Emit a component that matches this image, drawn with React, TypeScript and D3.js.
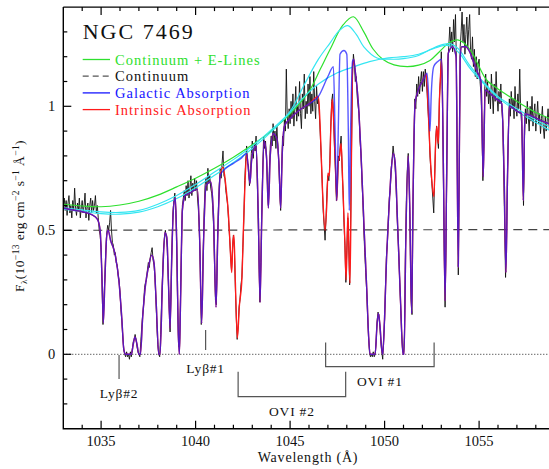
import * as d3 from 'd3';

const W = 549;
const H = 469;

const WAVE_DOMAIN = [1033, 1059];
const FLUX_DOMAIN = [-0.3, 1.4];

const xMajorTicks = [1035, 1040, 1045, 1050, 1055];
const xTickLabels = ['1035', '1040', '1045', '1050', '1055'];
const yMajorTicks = [0, 0.5, 1];
const yTickLabels = ['0', '0.5', '1'];

const GREEN = '#2ee02e';
const CYAN = '#35e6f2';
const BLUE = '#1616ff';
const RED = '#ff1a1a';
const SERIF = '"Liberation Serif", "DejaVu Serif", serif';

// observed spectrum, 0.05 A sampling starting at 1033.00 (one row per angstrom)
const obsStart = 1033.0;
const obsStep = 0.05;
const obsFlux = [
  0.60, 0.63, 0.58, 0.62, 0.56, 0.61, 0.64, 0.57, 0.60, 0.55, 0.62, 0.58, 0.67, 0.59, 0.56, 0.61, 0.58, 0.63, 0.55, 0.59,
  0.62, 0.57, 0.60, 0.65, 0.55, 0.59, 0.61, 0.54, 0.60, 0.63, 0.57, 0.62, 0.58, 0.60, 0.64, 0.57, 0.60, 0.55, 0.50, 0.48,
  0.43, 0.28, 0.12, 0.22, 0.31, 0.42, 0.49, 0.52, 0.50, 0.53, 0.58, 0.50, 0.45, 0.44, 0.40, 0.41, 0.37, 0.36, 0.32, 0.30,
  0.25, 0.18, 0.13, 0.07, 0.02, 0.00, -0.01, 0.01, -0.01, 0.00, -0.02, 0.01, -0.01, 0.02, 0.05, 0.06, 0.08, 0.06, 0.03, 0.01,
  0.00, -0.01, 0.05, 0.11, 0.16, 0.20, 0.27, 0.29, 0.30, 0.34, 0.37, 0.35, 0.39, 0.41, 0.43, 0.38, 0.36, 0.31, 0.22, 0.12,
  0.04, 0.00, -0.01, 0.08, 0.21, 0.31, 0.42, 0.47, 0.50, 0.47, 0.43, 0.31, 0.20, 0.09, 0.26, 0.43, 0.57, 0.62, 0.65, 0.58,
  0.45, 0.19, 0.03, 0.03, 0.22, 0.42, 0.60, 0.63, 0.66, 0.62, 0.68, 0.64, 0.70, 0.63, 0.67, 0.72, 0.64, 0.69, 0.66, 0.71,
  0.66, 0.70, 0.63, 0.58, 0.49, 0.33, 0.12, 0.22, 0.41, 0.57, 0.68, 0.71, 0.66, 0.75, 0.69, 0.72, 0.67, 0.65, 0.60, 0.52,
  0.37, 0.22, 0.20, 0.42, 0.57, 0.68, 0.75, 0.71, 0.77, 0.82, 0.72, 0.71, 0.66, 0.63, 0.60, 0.53, 0.47, 0.40, 0.34, 0.42,
  0.48, 0.43, 0.28, 0.15, 0.06, 0.11, 0.19, 0.22, 0.28, 0.31, 0.43, 0.54, 0.70, 0.78, 0.84, 0.77, 0.76, 0.68, 0.73, 0.81,
  0.86, 0.79, 0.85, 0.82, 0.88, 0.73, 0.58, 0.40, 0.21, 0.37, 0.56, 0.74, 0.88, 0.83, 0.86, 0.79, 0.69, 0.60, 0.74, 0.84,
  0.88, 0.84, 0.93, 0.86, 0.90, 0.83, 0.92, 0.84, 0.78, 0.66, 0.58, 0.73, 0.88, 0.84, 0.95, 0.90, 1.15, 0.96, 0.91, 0.99,
  0.93, 1.02, 0.95, 1.05, 0.92, 0.99, 1.08, 0.94, 1.00, 0.96, 1.10, 0.97, 0.91, 1.05, 0.99, 1.13, 0.95, 1.02, 0.97, 1.09,
  1.00, 1.12, 0.97, 1.05, 0.98, 1.14, 1.02, 0.95, 1.08, 1.01, 1.03, 0.96, 0.88, 0.79, 0.69, 0.58, 0.52, 0.46, 0.55, 0.66,
  0.72, 0.70, 0.77, 0.92, 1.02, 1.05, 0.95, 0.83, 0.74, 0.62, 0.66, 0.80, 0.78, 0.84, 0.88, 0.75, 0.66, 0.53, 0.44, 0.29,
  0.42, 0.55, 0.44, 0.28, 0.52, 0.82, 1.12, 1.21, 1.17, 1.10, 1.12, 1.04, 1.00, 0.97, 0.86, 0.81, 0.70, 0.62, 0.50, 0.41,
  0.33, 0.26, 0.16, 0.07, 0.01, -0.01, 0.00, -0.01, 0.01, -0.01, 0.00, 0.05, 0.13, 0.17, 0.16, 0.11, 0.05, 0.01, -0.02, 0.06,
  0.14, 0.28, 0.40, 0.45, 0.55, 0.63, 0.66, 0.75, 0.79, 0.84, 0.80, 0.76, 0.69, 0.58, 0.49, 0.41, 0.29, 0.19, 0.09, 0.02,
  0.00, 0.08, 0.40, 0.62, 0.74, 0.81, 0.70, 0.48, 0.22, 0.16, 0.58, 0.86, 1.03, 0.99, 1.09, 1.04, 1.12, 1.05, 1.10, 1.14,
  1.06, 1.14, 1.08, 1.15, 1.11, 1.05, 0.98, 0.92, 0.80, 0.74, 0.69, 0.63, 0.57, 0.72, 0.86, 0.92, 0.87, 0.83, 1.03, 1.10,
  1.22, 1.08, 0.78, 0.43, 0.19, 0.44, 0.82, 1.18, 1.25, 1.32, 1.24, 1.30, 1.22, 1.35, 1.26, 1.37, 1.18, 0.74, 0.32, 0.76,
  1.24, 1.30, 1.38, 1.26, 1.33, 1.21, 1.29, 1.36, 1.24, 1.31, 1.37, 1.22, 1.19, 1.28, 1.16, 1.23, 1.12, 1.20, 1.11, 1.17,
  1.19, 1.10, 1.05, 0.93, 0.70, 0.86, 1.08, 1.13, 1.04, 1.10, 1.01, 1.07, 0.99, 1.13, 1.05, 0.97, 1.09, 1.02, 1.14, 1.04,
  0.98, 1.06, 1.01, 1.09, 0.99, 0.94, 0.74, 0.53, 0.31, 0.46, 0.72, 0.90, 1.03, 0.96, 1.06, 0.99, 1.03, 0.95, 1.08, 1.00,
  0.96, 1.05, 0.99, 1.15, 0.98, 0.93, 0.79, 0.60, 0.86, 0.99, 0.93, 1.02, 0.96, 0.90, 1.00, 0.94, 1.04, 0.92, 0.97, 1.01,
  0.90, 0.96, 1.02, 0.93, 0.97, 0.89, 0.95, 1.00, 0.91, 0.87, 0.96, 0.90, 0.94, 0.99, 0.92, 0.88,
];

// continuum + emission lines (green)
const greenModel = [
  [1033, 0.605], [1034, 0.598], [1035, 0.595], [1036, 0.602], [1037, 0.617],
  [1038, 0.642], [1039, 0.675], [1040, 0.71], [1041, 0.75], [1042, 0.795],
  [1043, 0.845], [1044, 0.9], [1045, 0.97], [1046, 1.06], [1046.6, 1.15],
  [1047.1, 1.227], [1047.8, 1.328], [1048.35, 1.361], [1048.9, 1.3],
  [1049.4, 1.23], [1049.9, 1.19], [1050.5, 1.167], [1051.2, 1.16],
  [1051.8, 1.166], [1052.4, 1.185], [1052.9, 1.22], [1053.4, 1.255],
  [1053.85, 1.268], [1054.2, 1.255], [1054.6, 1.22], [1055.0, 1.16],
  [1055.4, 1.106], [1056, 1.07], [1056.6, 1.04], [1057.2, 1.01],
  [1058, 0.975], [1058.7, 0.952], [1059, 0.94],
];

// alternative continua (cyan)
const cyanModelA = [
  [1033, 0.592], [1034, 0.582], [1035, 0.574], [1036, 0.572], [1037, 0.58],
  [1038, 0.605], [1039, 0.64], [1040, 0.685], [1041, 0.735], [1042, 0.785],
  [1043, 0.84], [1044, 0.905], [1045, 0.98], [1045.7, 1.08], [1046.5, 1.19],
  [1047.1, 1.254], [1047.6, 1.305], [1048.05, 1.325], [1048.5, 1.29],
  [1048.9, 1.24], [1049.6, 1.195], [1050.3, 1.19], [1051.0, 1.192],
  [1051.8, 1.205], [1052.5, 1.232], [1053.1, 1.25], [1053.5, 1.252],
  [1053.9, 1.232], [1054.5, 1.165], [1055.2, 1.1], [1056, 1.04],
  [1057, 0.99], [1058, 0.945], [1058.7, 0.918], [1059, 0.905],
];

const cyanModelB = [
  [1033, 0.585], [1034, 0.576], [1035, 0.567], [1036, 0.565], [1037, 0.573],
  [1038, 0.595], [1039, 0.628], [1040, 0.672], [1041, 0.722], [1042, 0.773],
  [1043, 0.83], [1044, 0.897], [1045, 0.975], [1045.7, 1.035], [1046.5, 1.09],
  [1047.5, 1.135], [1048.4, 1.16], [1049.2, 1.18], [1050.2, 1.195],
  [1051, 1.2], [1051.8, 1.21], [1052.5, 1.23], [1053.1, 1.245],
  [1053.5, 1.243], [1054, 1.21], [1054.5, 1.155], [1055.2, 1.095],
  [1056, 1.035], [1057, 0.98], [1058, 0.935], [1058.7, 0.905], [1059, 0.895],
];

// continuum level (dashed)
const continuumLevel = [[1033, 0.5], [1059, 0.503]];

// galactic absorption model (blue)
const blueModel = [
  [1033.0, 0.59], [1033.5, 0.582], [1034.0, 0.575], [1034.5, 0.563], [1034.8, 0.545],
  [1034.95, 0.5], [1035.05, 0.3], [1035.12, 0.127], [1035.2, 0.3], [1035.3, 0.48],
  [1035.37, 0.5], [1035.5, 0.46], [1035.75, 0.4], [1035.95, 0.29], [1036.1, 0.14],
  [1036.2, 0.02], [1036.3, 0.0], [1036.6, 0.0], [1036.7, 0.04], [1036.79, 0.07],
  [1036.9, 0.04], [1037.0, 0.0], [1037.08, 0.0], [1037.2, 0.15], [1037.35, 0.28],
  [1037.5, 0.35], [1037.68, 0.4], [1037.8, 0.37], [1037.92, 0.2], [1038.05, 0.0],
  [1038.12, 0.0], [1038.25, 0.3], [1038.38, 0.49], [1038.48, 0.47], [1038.56, 0.3],
  [1038.65, 0.105], [1038.74, 0.4], [1038.84, 0.6], [1038.93, 0.63], [1039.0, 0.45],
  [1039.08, 0.1], [1039.14, 0.0], [1039.2, 0.2], [1039.3, 0.58], [1039.45, 0.64],
  [1039.7, 0.65], [1039.9, 0.66], [1040.1, 0.665], [1040.22, 0.45], [1040.32, 0.125],
  [1040.42, 0.45], [1040.55, 0.68], [1040.8, 0.695], [1040.95, 0.55], [1041.08, 0.19],
  [1041.18, 0.5], [1041.3, 0.72], [1041.6, 0.75], [1042.0, 0.77], [1042.4, 0.79],
  [1042.7, 0.81], [1042.8, 0.74], [1042.88, 0.69], [1042.96, 0.78], [1043.05, 0.82],
  [1043.2, 0.84], [1043.32, 0.55], [1043.41, 0.21], [1043.5, 0.55], [1043.62, 0.86],
  [1043.75, 0.8], [1043.85, 0.59], [1043.95, 0.8], [1044.1, 0.89], [1044.3, 0.87],
  [1044.42, 0.75], [1044.5, 0.59], [1044.58, 0.8], [1044.7, 0.92], [1045.0, 0.95],
  [1045.5, 0.985], [1046.0, 1.01], [1046.5, 1.04], [1047.0, 1.12], [1047.29, 1.16],
  [1047.38, 0.9], [1047.47, 0.62], [1047.56, 0.95], [1047.64, 1.21], [1047.85, 1.225],
  [1048.0, 1.21], [1048.08, 0.9], [1048.13, 0.58], [1048.2, 0.9], [1048.3, 1.18],
  [1048.36, 1.19], [1048.45, 1.14], [1048.6, 1.025], [1048.79, 0.743], [1048.92, 0.5],
  [1049.05, 0.273], [1049.15, 0.08], [1049.23, 0.0], [1049.5, 0.0], [1049.6, 0.12],
  [1049.67, 0.165], [1049.75, 0.12], [1049.85, 0.02], [1049.9, 0.0], [1050.0, 0.15],
  [1050.1, 0.38], [1050.2, 0.54], [1050.35, 0.74], [1050.46, 0.81], [1050.55, 0.78],
  [1050.7, 0.5], [1050.85, 0.2], [1050.97, 0.0], [1051.03, 0.0], [1051.12, 0.45],
  [1051.25, 0.8], [1051.33, 0.6], [1051.43, 0.165], [1051.5, 0.6], [1051.61, 1.01],
  [1051.8, 1.07], [1052.0, 1.1], [1052.25, 1.133], [1052.35, 1.0], [1052.4, 0.9],
  [1052.47, 1.05], [1052.6, 1.16], [1052.8, 1.18], [1053.02, 1.19], [1053.12, 0.7],
  [1053.2, 0.215], [1053.28, 0.7], [1053.37, 1.214], [1053.6, 1.24], [1053.78, 1.2],
  [1053.9, 0.353], [1054.0, 1.2], [1054.08, 1.24], [1054.3, 1.24], [1054.5, 1.22],
  [1054.7, 1.18], [1054.9, 1.14], [1055.1, 1.1], [1055.22, 0.716], [1055.32, 1.066],
  [1055.6, 1.05], [1055.9, 1.03], [1056.2, 1.01], [1056.33, 0.7], [1056.42, 0.33],
  [1056.5, 0.7], [1056.6, 1.0], [1057.0, 0.98], [1057.25, 0.97], [1057.34, 0.62],
  [1057.42, 0.97], [1057.8, 0.96], [1058.2, 0.945], [1058.7, 0.93], [1059.0, 0.925],
];

// intrinsic absorption (red) where it departs from the blue model
const redRegions = [
  [
    [1041.45, 0.755], [1041.6, 0.68], [1041.75, 0.55], [1041.85, 0.4], [1041.91, 0.33],
    [1041.97, 0.45], [1042.03, 0.48], [1042.1, 0.3], [1042.21, 0.066], [1042.32, 0.2],
    [1042.44, 0.29], [1042.55, 0.55], [1042.62, 0.7], [1042.7, 0.81],
  ],
  [
    [1046.5, 1.04], [1046.6, 0.9], [1046.72, 0.65], [1046.85, 0.5], [1046.95, 0.62],
    [1047.0, 0.73], [1047.08, 0.72], [1047.15, 0.9], [1047.23, 1.03], [1047.3, 0.95],
    [1047.4, 0.75], [1047.47, 0.62], [1047.55, 0.78], [1047.62, 0.8], [1047.7, 0.85],
    [1047.78, 0.7], [1047.9, 0.45], [1047.96, 0.3], [1048.02, 0.45], [1048.06, 0.57],
    [1048.12, 0.4], [1048.17, 0.287], [1048.24, 0.75], [1048.3, 1.15], [1048.36, 1.19],
  ],
  [
    [1052.2, 1.13], [1052.3, 1.0], [1052.4, 0.82], [1052.5, 0.7], [1052.61, 0.636],
    [1052.7, 0.85], [1052.76, 0.92], [1052.84, 0.85], [1052.9, 1.02], [1052.97, 1.14],
    [1053.02, 1.19],
  ],
];

const legendItems = [
  { label: 'Continuum + E-Lines', stroke: GREEN, text: GREEN, dash: undefined },
  { label: 'Continuum', stroke: '#555', text: '#111', dash: '6 4' },
  { label: 'Galactic Absorption', stroke: BLUE, text: BLUE, dash: undefined },
  { label: 'Intrinsic Absorption', stroke: RED, text: RED, dash: undefined },
];

// line identifications: wavelength + flux extent of tick, label
const singleMarks = [
  { label: 'Lyβ#2', wave: 1035.95, top: -0.003, bottom: -0.1, labelFlux: -0.155 },
  { label: 'Lyβ#1', wave: 1040.53, top: 0.098, bottom: 0.017, labelFlux: -0.055 },
];
const doubletMarks = [
  { label: 'OVI #1', waves: [1046.88, 1052.62], top: 0.048, bottom: -0.05, labelFlux: -0.108 },
  { label: 'OVI #2', waves: [1042.25, 1047.94], top: -0.07, bottom: -0.171, labelFlux: -0.228 },
];

export default function App() {
  const x = d3.scaleLinear().domain(WAVE_DOMAIN).range([63.3, 554.7]);
  const y = d3.scaleLinear().domain(FLUX_DOMAIN).range([428.7, 7.1]);
  const [x0, x1] = x.range();
  const [yb, yt] = y.range();

  const obs = obsFlux.map((f, i) => [obsStart + i * obsStep, f]);
  const redModel = [
    ...blueModel.filter(([w]) => !redRegions.some(r => w >= r[0][0] && w <= r[r.length - 1][0])),
    ...redRegions.flat(),
  ].sort((a, b) => a[0] - b[0]);

  const raw = d3.line<number[]>().x(d => x(d[0])).y(d => y(d[1]));
  const smooth = d3.line<number[]>().x(d => x(d[0])).y(d => y(d[1])).curve(d3.curveCatmullRom.alpha(0.5));
  const sharp = d3.line<number[]>().x(d => x(d[0])).y(d => y(d[1])).curve(d3.curveMonotoneX);

  const xMinor = d3.range(1034, 1059).filter(v => v % 5 !== 0);
  const yMinor = d3.range(-2, 14).map(v => v / 10).filter(v => !yMajorTicks.includes(v));

  return (
    <div style={{ position: 'absolute', left: 0, top: 0 }}>
      <svg width={W} height={H} style={{ display: 'block', background: '#fff' }}>
        <defs>
          <clipPath id="plot-clip">
            <rect x={x0} y={yt} width={x1 - x0} height={yb - yt} />
          </clipPath>
        </defs>

        <g clipPath="url(#plot-clip)" fill="none">
          <line x1={x0} x2={W} y1={y(0)} y2={y(0)} stroke="#222" strokeWidth={1} strokeDasharray="1 2" />
          <path d={raw(continuumLevel)!} stroke="#444" strokeWidth={1.2} strokeDasharray="9 6" />
          <path d={raw(obs)!} stroke="#111" strokeWidth={0.9} strokeLinejoin="round" />
          <path d={smooth(greenModel)!} stroke={GREEN} strokeWidth={1.2} />
          <path d={smooth(cyanModelB)!} stroke={CYAN} strokeWidth={1.2} />
          <path d={smooth(cyanModelA)!} stroke={CYAN} strokeWidth={1.2} />
          <path d={sharp(redModel)!} stroke={RED} strokeWidth={1.4} />
          <path d={sharp(blueModel)!} stroke={BLUE} strokeWidth={1.4} strokeOpacity={0.72} />
        </g>

        {/* axes frame */}
        <path d={`M${x0},${yt}V${yb}H${W}`} fill="none" stroke="#000" strokeWidth={1.4} />
        <line x1={x0} x2={W} y1={yt} y2={yt} stroke="#000" strokeWidth={1.4} />

        {/* x ticks, bottom and top */}
        <g stroke="#000" strokeWidth={1.2}>
          {xMinor.map(v => (
            <g key={'xm' + v}>
              <line x1={x(v)} x2={x(v)} y1={yb} y2={yb - 4} />
              <line x1={x(v)} x2={x(v)} y1={yt} y2={yt + 4} />
            </g>
          ))}
          {xMajorTicks.map(v => (
            <g key={'xM' + v}>
              <line x1={x(v)} x2={x(v)} y1={yb} y2={yb - 8} />
              <line x1={x(v)} x2={x(v)} y1={yt} y2={yt + 8} />
            </g>
          ))}
          {yMinor.map(v => (
            <line key={'ym' + v} x1={x0} x2={x0 + 4} y1={y(v)} y2={y(v)} />
          ))}
          {yMajorTicks.map(v => (
            <line key={'yM' + v} x1={x0} x2={x0 + 8} y1={y(v)} y2={y(v)} />
          ))}
        </g>

        <g fontFamily={SERIF} fontSize={14.5} fill="#111">
          {xMajorTicks.map((v, i) => (
            <text key={'xl' + v} x={x(v)} y={yb + 17} textAnchor="middle">{xTickLabels[i]}</text>
          ))}
          {yMajorTicks.map((v, i) => (
            <text key={'yl' + v} x={x0 - 8} y={y(v) + 5} textAnchor="end">{yTickLabels[i]}</text>
          ))}
        </g>

        <text x={308} y={462} textAnchor="middle" fontFamily={SERIF} fontSize={14} letterSpacing={0.8} fill="#111">
          Wavelength (Å)
        </text>

        <text transform="translate(24,216) rotate(-90)" textAnchor="middle" fontFamily={SERIF} fontSize={13.5} letterSpacing={0.4} fill="#111">
          F<tspan fontSize={9} dy={3}>λ</tspan>
          <tspan dy={-3}>(10</tspan>
          <tspan fontSize={9.5} dy={-5}>−13</tspan>
          <tspan dy={5}> erg cm</tspan>
          <tspan fontSize={9.5} dy={-5}>−2</tspan>
          <tspan dy={5}> s</tspan>
          <tspan fontSize={9.5} dy={-5}>−1</tspan>
          <tspan dy={5}> Å</tspan>
          <tspan fontSize={9.5} dy={-5}>−1</tspan>
          <tspan dy={5}>)</tspan>
        </text>

        {/* title + legend */}
        <text x={82.7} y={38.5} fontFamily={SERIF} fontSize={22} letterSpacing={2} fill="#111">NGC 7469</text>
        {legendItems.map((it, i) => {
          const ly = 59.5 + i * 16.7;
          return (
            <g key={it.label}>
              <line x1={82.7} x2={110} y1={ly} y2={ly} stroke={it.stroke} strokeWidth={1.3} strokeDasharray={it.dash} />
              <text x={115} y={ly + 5} fontFamily={SERIF} fontSize={14.5} letterSpacing={1} fill={it.text}>{it.label}</text>
            </g>
          );
        })}

        {/* line identifications */}
        <g stroke="#555" strokeWidth={1.2} fill="none">
          {singleMarks.map(m => (
            <line key={m.label} x1={x(m.wave)} x2={x(m.wave)} y1={y(m.top)} y2={y(m.bottom)} />
          ))}
          {doubletMarks.map(m => (
            <path key={m.label}
              d={`M${x(m.waves[0])},${y(m.top)}V${y(m.bottom)}H${x(m.waves[1])}V${y(m.top)}`} />
          ))}
        </g>
        <g fontFamily={SERIF} fontSize={13.5} letterSpacing={0.8} fill="#111" textAnchor="middle">
          {singleMarks.map(m => (
            <text key={m.label} x={x(m.wave)} y={y(m.labelFlux) + 5}>{m.label}</text>
          ))}
          {doubletMarks.map(m => (
            <text key={m.label} x={(x(m.waves[0]) + x(m.waves[1])) / 2} y={y(m.labelFlux) + 5}>{m.label}</text>
          ))}
        </g>
      </svg>
    </div>
  );
}
